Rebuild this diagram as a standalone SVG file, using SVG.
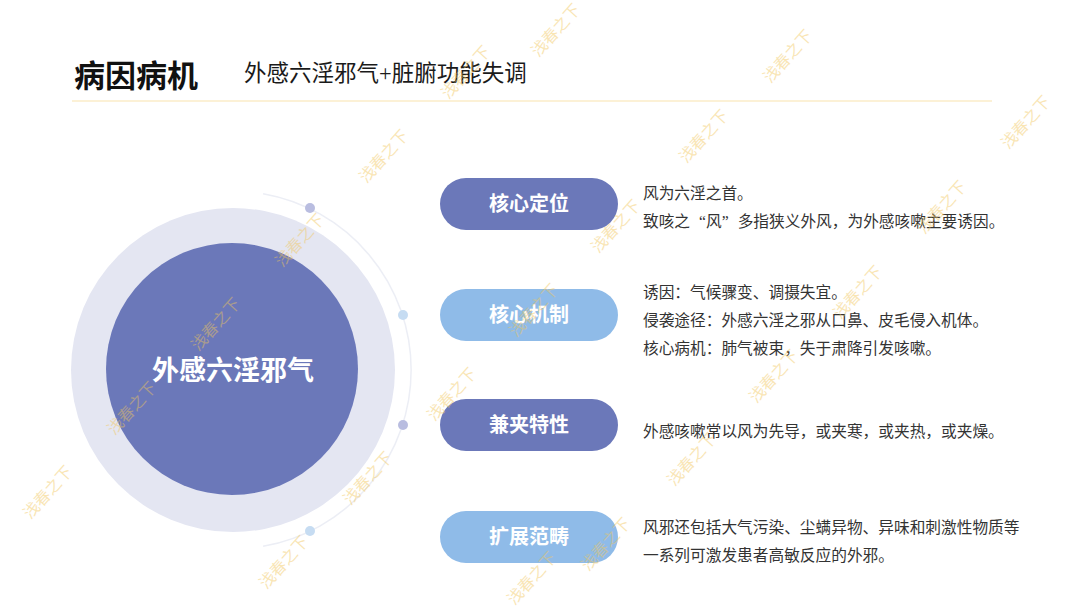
<svg xmlns="http://www.w3.org/2000/svg" width="1080" height="608" viewBox="0 0 1080 608">
  <style>
    .cjk { font-family: "Liberation Serif", "Noto Sans CJK SC", serif; }
    .title { font-size: 31px; font-weight: bold; fill: #111111; }
    .sub { font-size: 22.5px; fill: #1a1a1a; }
    .body { font-size: 15.7px; fill: #333333; }
    .pilltext { font-size: 20px; font-weight: bold; fill: #ffffff; text-anchor: middle; }
    .dark { fill: #6b78b9; }
    .light { fill: #8fbbe8; }
    .wm { font-size: 16px; fill: #f2c75c; opacity: 0.45; text-anchor: middle; }
  </style>
  <rect width="1080" height="608" fill="#ffffff"/>

  <g id="header">
    <text class="cjk title" x="74" y="87">病因病机</text>
    <text class="cjk sub" x="244" y="81">外感六淫邪气+脏腑功能失调</text>
    <line x1="72" y1="101" x2="992" y2="101" stroke="#fbecc8" stroke-width="1.5"/>
  </g>

  <g id="decor">
    <path d="M 263.1 193.7 A 179 179 0 0 1 263.1 546.3" fill="none" stroke="#eceef5" stroke-width="1.5"/>
    <circle cx="310" cy="208" r="5" fill="#b9bde0"/>
    <circle cx="403" cy="315" r="5" fill="#c6dcf2"/>
    <circle cx="403" cy="425" r="5" fill="#b9bde0"/>
    <circle cx="310" cy="531" r="5" fill="#c6dcf2"/>
  </g>

  <g id="connectors"></g>

  <g id="center-node">
    <circle cx="233" cy="370" r="162" fill="#e4e6f2"/>
    <circle cx="232" cy="369" r="126" class="dark"/>
    <text class="cjk" x="233" y="380" font-size="27" font-weight="bold" fill="#ffffff" text-anchor="middle">外感六淫邪气</text>
  </g>

  <g id="node-1">
    <rect x="440" y="178" width="178" height="52" rx="26" class="dark"/>
    <text class="cjk pilltext" x="529" y="211">核心定位</text>
    <text class="cjk body" x="643" y="199">风为六淫之首。</text>
    <text class="cjk body" x="643" y="227">致咳之<tspan dx="9">“</tspan>风”<tspan dx="9">多指狭义外风，为外感咳嗽主要诱因。</tspan></text>
  </g>

  <g id="node-2">
    <rect x="440" y="289" width="178" height="52" rx="26" class="light"/>
    <text class="cjk pilltext" x="529" y="322">核心机制</text>
    <text class="cjk body" x="643" y="298">诱因：气候骤变、调摄失宜。</text>
    <text class="cjk body" x="643" y="326">侵袭途径：外感六淫之邪从口鼻、皮毛侵入机体。</text>
    <text class="cjk body" x="643" y="354">核心病机：肺气被束，失于肃降引发咳嗽。</text>
  </g>

  <g id="node-3">
    <rect x="440" y="399" width="178" height="52" rx="26" class="dark"/>
    <text class="cjk pilltext" x="529" y="432">兼夹特性</text>
    <text class="cjk body" x="643" y="437">外感咳嗽常以风为先导，或夹寒，或夹热，或夹燥。</text>
  </g>

  <g id="node-4">
    <rect x="440" y="511" width="178" height="52" rx="26" class="light"/>
    <text class="cjk pilltext" x="529" y="544">扩展范畴</text>
    <text class="cjk body" x="643" y="533">风邪还包括大气污染、尘螨异物、异味和刺激性物质等</text>
    <text class="cjk body" x="643" y="561">一系列可激发患者高敏反应的外邪。</text>
  </g>

  <g id="watermark">
    <text class="cjk wm" transform="translate(52,496) rotate(-48)">浅春之下</text>
    <text class="cjk wm" transform="translate(136,412) rotate(-48)">浅春之下</text>
    <text class="cjk wm" transform="translate(220,328) rotate(-48)">浅春之下</text>
    <text class="cjk wm" transform="translate(304,244) rotate(-48)">浅春之下</text>
    <text class="cjk wm" transform="translate(388,160) rotate(-48)">浅春之下</text>
    <text class="cjk wm" transform="translate(470,76) rotate(-48)">浅春之下</text>
    <text class="cjk wm" transform="translate(560,34) rotate(-48)">浅春之下</text>
    <text class="cjk wm" transform="translate(288,566) rotate(-48)">浅春之下</text>
    <text class="cjk wm" transform="translate(372,482) rotate(-48)">浅春之下</text>
    <text class="cjk wm" transform="translate(456,398) rotate(-48)">浅春之下</text>
    <text class="cjk wm" transform="translate(538,314) rotate(-48)">浅春之下</text>
    <text class="cjk wm" transform="translate(620,230) rotate(-48)">浅春之下</text>
    <text class="cjk wm" transform="translate(708,140) rotate(-48)">浅春之下</text>
    <text class="cjk wm" transform="translate(792,60) rotate(-48)">浅春之下</text>
    <text class="cjk wm" transform="translate(536,582) rotate(-48)">浅春之下</text>
    <text class="cjk wm" transform="translate(610,548) rotate(-48)">浅春之下</text>
    <text class="cjk wm" transform="translate(696,463) rotate(-48)">浅春之下</text>
    <text class="cjk wm" transform="translate(778,380) rotate(-48)">浅春之下</text>
    <text class="cjk wm" transform="translate(862,296) rotate(-48)">浅春之下</text>
    <text class="cjk wm" transform="translate(946,211) rotate(-48)">浅春之下</text>
    <text class="cjk wm" transform="translate(1030,126) rotate(-48)">浅春之下</text>
  </g>
</svg>
